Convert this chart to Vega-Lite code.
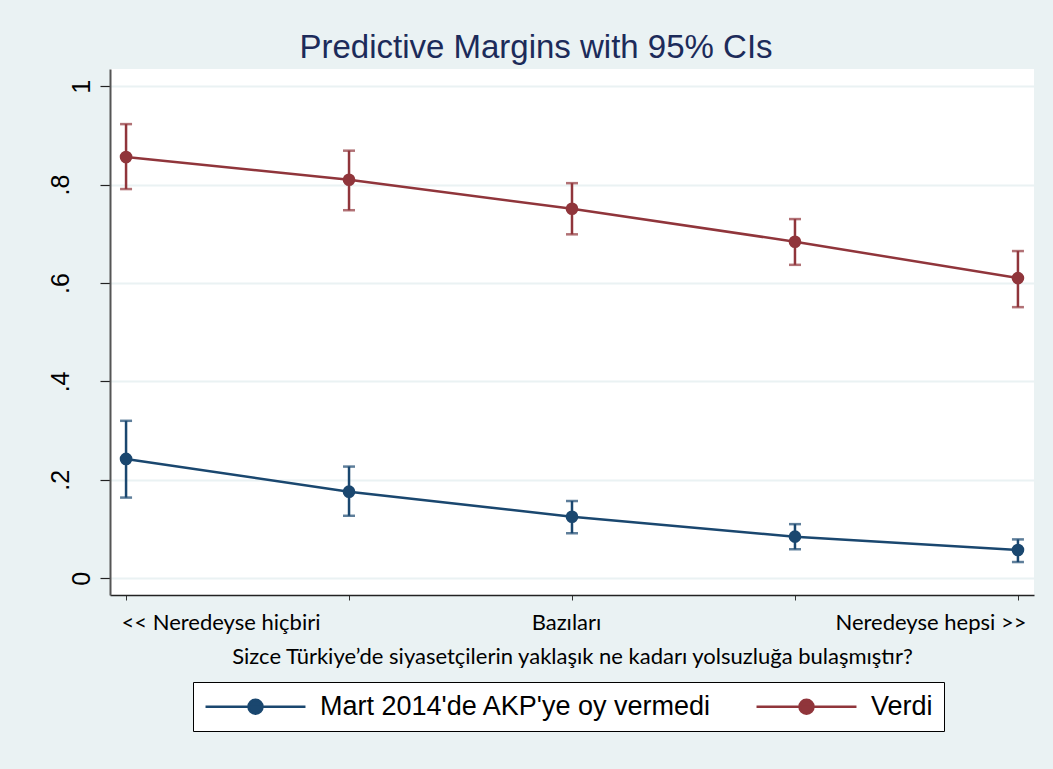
{
  "$schema": "https://vega.github.io/schema/vega-lite/v6.json",
  "width": 924,
  "height": 526,
  "autosize": {"type": "none"},
  "padding": {"left": 110, "top": 69, "right": 19, "bottom": 174},
  "background": "#EAF2F3",
  "title": {
    "text": "Predictive Margins with 95% CIs",
    "font": "Liberation Sans",
    "fontSize": 33,
    "fontWeight": "normal",
    "color": "#1C2B5A",
    "anchor": "middle",
    "dx": -36,
    "dy": 32,
    "offset": 10,
    "baseline": "alphabetic"
  },
  "config": {"view": {"fill": "#FFFFFF", "stroke": null}},
  "data": {
    "values": [
      {"x": 1, "group": "Mart 2014'de AKP'ye oy vermedi", "m": 0.2425, "lo": 0.164, "hi": 0.320},
      {"x": 2, "group": "Mart 2014'de AKP'ye oy vermedi", "m": 0.176, "lo": 0.127, "hi": 0.227},
      {"x": 3, "group": "Mart 2014'de AKP'ye oy vermedi", "m": 0.125, "lo": 0.0915, "hi": 0.157},
      {"x": 4, "group": "Mart 2014'de AKP'ye oy vermedi", "m": 0.0846, "lo": 0.059, "hi": 0.110},
      {"x": 5, "group": "Mart 2014'de AKP'ye oy vermedi", "m": 0.0575, "lo": 0.033, "hi": 0.079},
      {"x": 1, "group": "Verdi", "m": 0.856, "lo": 0.791, "hi": 0.923},
      {"x": 2, "group": "Verdi", "m": 0.810, "lo": 0.748, "hi": 0.869},
      {"x": 3, "group": "Verdi", "m": 0.751, "lo": 0.699, "hi": 0.803},
      {"x": 4, "group": "Verdi", "m": 0.684, "lo": 0.637, "hi": 0.730},
      {"x": 5, "group": "Verdi", "m": 0.610, "lo": 0.551, "hi": 0.665}
    ]
  },
  "encoding": {
    "x": {
      "field": "x",
      "type": "quantitative",
      "scale": {"domain": [0.928, 5.072], "nice": false, "zero": false},
      "axis": {
        "values": [1, 2, 3, 4, 5],
        "grid": false,
        "title": "Sizce Türkiye’de siyasetçilerin yaklaşık ne kadarı yolsuzluğa bulaşmıştır?",
        "labelExpr": "datum.value == 1 ? '<< Neredeyse hiçbiri' : datum.value == 3 ? 'Bazıları' : datum.value == 5 ? 'Neredeyse hepsi >>' : ''",
        "labelAlign": {"expr": "datum.value == 1 ? 'left' : datum.value == 5 ? 'right' : 'center'"},
        "labelOffset": {"expr": "datum.value == 1 ? -5 : datum.value == 3 ? -6 : datum.value == 5 ? 8 : 0"},
        "labelBaseline": "alphabetic",
        "labelPadding": 29,
        "labelFont": "Lato",
        "labelFontSize": 22,
        "labelColor": "#000000",
        "labelOverlap": false,
        "labelBound": false,
        "labelFlush": false,
        "labelLimit": 0,
        "tickSize": 5,
        "tickColor": "#333333",
        "tickWidth": 1,
        "domainColor": "#222222",
        "domainWidth": 1.5,
        "titleFont": "Lato",
        "titleFontSize": 22,
        "titleFontWeight": "normal",
        "titleColor": "#000000",
        "titleBaseline": "alphabetic",
        "titleLimit": 0,
        "titlePadding": 30
      }
    },
    "color": {
      "field": "group",
      "type": "nominal",
      "scale": {"domain": ["Mart 2014'de AKP'ye oy vermedi", "Verdi"], "range": ["#1A476F", "#90353B"]},
      "legend": {
        "orient": "none",
        "legendX": 83,
        "legendY": 613,
        "direction": "horizontal",
        "columns": 2,
        "title": null,
        "symbolType": "M -7.14 0 L 7.14 0 M 1 0 A 1 1 0 1 1 -1 0 A 1 1 0 1 1 1 0 Z",
        "symbolSize": 196,
        "symbolStrokeWidth": 2.5,
        "symbolOffset": 38,
        "labelOffset": 51,
        "labelFont": "Liberation Sans",
        "labelFontSize": 27,
        "labelColor": "#000000",
        "labelLimit": 0,
        "fillColor": "#FFFFFF",
        "strokeColor": "#000000",
        "padding": 11,
        "columnPadding": 39,
        "encode": {
          "symbols": {
            "update": {
              "fill": {"scale": "color", "field": "value"},
              "stroke": {"scale": "color", "field": "value"},
              "strokeWidth": {"value": 2.5},
              "opacity": {"value": 1}
            }
          }
        }
      }
    }
  },
  "layer": [
    {
      "mark": {"type": "line", "strokeWidth": 2.5},
      "encoding": {
        "y": {
          "field": "m",
          "type": "quantitative",
          "scale": {"domain": [-0.034, 1.035], "nice": false, "zero": false},
          "axis": {
            "values": [0, 0.2, 0.4, 0.6, 0.8, 1],
            "title": null,
            "labelExpr": "datum.value == 0 ? '0' : datum.value == 1 ? '1' : '.' + round(datum.value * 10)",
            "labelAngle": -90,
            "labelAlign": "center",
            "labelBaseline": {"expr": "datum.value == 0 || datum.value == 1 ? 'alphabetic' : 'line-bottom'"},
            "labelLineHeight": 56,
            "labelPadding": 11,
            "labelFont": "Liberation Sans",
            "labelFontSize": 25,
            "labelColor": "#000000",
            "labelOverlap": false,
            "labelBound": false,
            "labelFlush": false,
            "tickSize": 10,
            "tickColor": "#222222",
            "tickWidth": 1.2,
            "domainColor": "#555555",
            "domainWidth": 2,
            "grid": true,
            "gridColor": "#EAF2F3",
            "gridWidth": 2
          }
        }
      }
    },
    {
      "mark": {"type": "errorbar", "thickness": 2.5, "ticks": {"size": 12, "thickness": 2.5}},
      "encoding": {
        "y": {"field": "lo", "type": "quantitative", "title": null},
        "y2": {"field": "hi"}
      }
    },
    {
      "mark": {"type": "circle", "size": 160, "opacity": 1},
      "encoding": {
        "y": {"field": "m", "type": "quantitative", "title": null}
      }
    }
  ]
}
